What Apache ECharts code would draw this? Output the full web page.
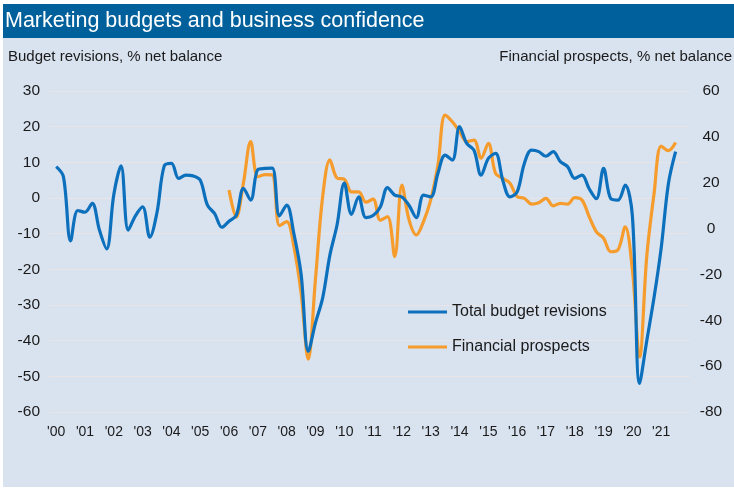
<!DOCTYPE html>
<html>
<head>
<meta charset="utf-8">
<script src="https://cdn.jsdelivr.net/npm/echarts@6/dist/echarts.min.js"></script>
<style>
html,body{margin:0;padding:0;background:#ffffff;}
#chart{width:734px;height:491px;}
</style>
</head>
<body>
<div id="chart"></div>
<script>
// Quarterly data, 2000Q1 .. 2021Q3
const startYear = 2000;
const budgetRevisions = [
  8.8, 6, -12, -3.5, -4, -1.5, -9, -14.3,
  1, 9, -9, -5, -2.5, -11, -4, 9,
  9.7, 5.5, 6.4, 6.2, 5, -2, -4.4, -8.2,
  -6.5, -4.9, 2.7, -0.6, 8, 8.3, 8.4, -5,
  -2, -10, -21.3, -43, -35, -28, -16, -7.5,
  4.2, -4.6, 0.3, -5.5, -4.9, -2.5, 2.9, 0.8,
  0.3, -2.1, -5.5, 0.8, 0.3, 6.9, 12, 10.6,
  20, 15.3, 13.4, 6.4, 11.1, 12.5, 5, 0.3,
  1.7, 9.7, 13.4, 13, 11.7, 13, 10.2, 8.8,
  5.5, 6.4, 2.6, -0.2, 8.3, -0.2, -0.6, 3.6,
  -5, -52, -40, -28, -14, 4, 13
];
// Financial prospects start in 2006Q1
const prospectsStartIndex = 24;
const financialProspects = [
  16.8, 5, 20, 37.9, 22.6, 23.5, 23.4, 1.3,
  3, -7.9, -28, -57, -22, 14, 30, 22,
  21.5, 16, 16, 11.5, 12.8, 3.7, 5.2, -12.2,
  19, 3.7, -2.8, 3, 12.5, 27.7, 49.5, 46.6,
  42.3, 37.9, 38.6, 30.7, 37.2, 24.1, 21.9, 19.8,
  13.9, 13.2, 10.7, 11.3, 13.2, 9.9, 11, 10.7,
  13.5, 12.5, 5.2, -1.4, -4.2, -10.1, -9.3, 0.8,
  -18, -56, -12, 15, 36, 34, 37.5
];
const leftTicks = {min: -60, max: 30, step: 10};
const rightTicks = {min: -80, max: 60, step: 20};
const seriesNames = ['Total budget revisions', 'Financial prospects'];

const quarterX = [];
for (let i = 0; i < budgetRevisions.length; i++) quarterX.push(startYear + i / 4);

const blueData = budgetRevisions.map((v, i) => [quarterX[i], v]);
const orangeData = financialProspects.map((v, i) => [quarterX[i + prospectsStartIndex], v]);

const BLUE = '#0c70bd';
const ORANGE = '#f59c2c';
const FONT = "'Liberation Sans', Arial, sans-serif";

const chart = echarts.init(document.getElementById('chart'), null, {renderer: 'canvas'});
chart.setOption({
  animation: false,
  textStyle: {fontFamily: FONT},
  graphic: [
    {type: 'rect', z: -10, shape: {x: 3, y: 4, width: 731, height: 483}, style: {fill: '#d9e2ef'}},
    {type: 'rect', z: -9, shape: {x: 3, y: 4, width: 731, height: 34}, style: {fill: '#00609c'}},
    {type: 'text', left: 5, top: 10, style: {text: 'Marketing budgets and business confidence', fill: '#ffffff', font: "21.5px 'Liberation Sans Narrow', 'Liberation Sans', Arial, sans-serif"}},
    {type: 'text', left: 8, top: 49, style: {text: 'Budget revisions, % net balance', fill: '#1a1a1a', font: '15px ' + FONT}},
    {type: 'text', right: 2, top: 49, style: {text: 'Financial prospects, % net balance', fill: '#1a1a1a', font: '15px ' + FONT, textAlign: 'left'}}
  ],
  grid: {left: 49, right: 44, top: 91, bottom: 79, containLabel: false},
  legend: {
    orient: 'vertical', left: 408, top: 304, padding: 0,
    itemWidth: 39, itemHeight: 3, itemGap: 19, icon: 'rect',
    textStyle: {fontSize: 16, color: '#1a1a1a', fontFamily: FONT},
    data: seriesNames
  },
  xAxis: {
    type: 'value', min: 1999.75, max: 2022, interval: 0.25,
    axisLine: {show: false}, axisTick: {show: false}, splitLine: {show: false},
    axisLabel: {
      margin: 13, fontSize: 14, color: '#1a1a1a', fontFamily: FONT,
      showMaxLabel: false,
      formatter: function (v) {
        if (Math.abs(v - Math.round(v)) > 1e-6) return '';
        const y = Math.round(v);
        if (y > 2021) return '';
        return "'" + String(y % 100).padStart(2, '0');
      }
    }
  },
  yAxis: [
    {
      type: 'value', position: 'left', min: leftTicks.min, max: leftTicks.max, interval: leftTicks.step,
      axisLine: {show: false}, axisTick: {show: false},
      axisLabel: {margin: 9, fontSize: 15.5, color: '#1a1a1a', fontFamily: FONT},
      splitLine: {show: true, lineStyle: {color: '#e9e5e6', width: 1}}
    },
    {
      type: 'value', position: 'right', min: rightTicks.min, max: rightTicks.max, interval: rightTicks.step,
      axisLine: {show: false}, axisTick: {show: false},
      axisLabel: {margin: 21, align: 'center', fontSize: 15.5, color: '#1a1a1a', fontFamily: FONT},
      splitLine: {show: false}
    }
  ],
  series: [
    {
      name: seriesNames[0], type: 'line', yAxisIndex: 0, data: blueData,
      smooth: 0.35, showSymbol: false, z: 3,
      lineStyle: {color: BLUE, width: 3.2}, itemStyle: {color: BLUE}
    },
    {
      name: seriesNames[1], type: 'line', yAxisIndex: 1, data: orangeData,
      smooth: 0.35, showSymbol: false, z: 2,
      lineStyle: {color: ORANGE, width: 3.2}, itemStyle: {color: ORANGE}
    }
  ]
});
</script>
</body>
</html>
